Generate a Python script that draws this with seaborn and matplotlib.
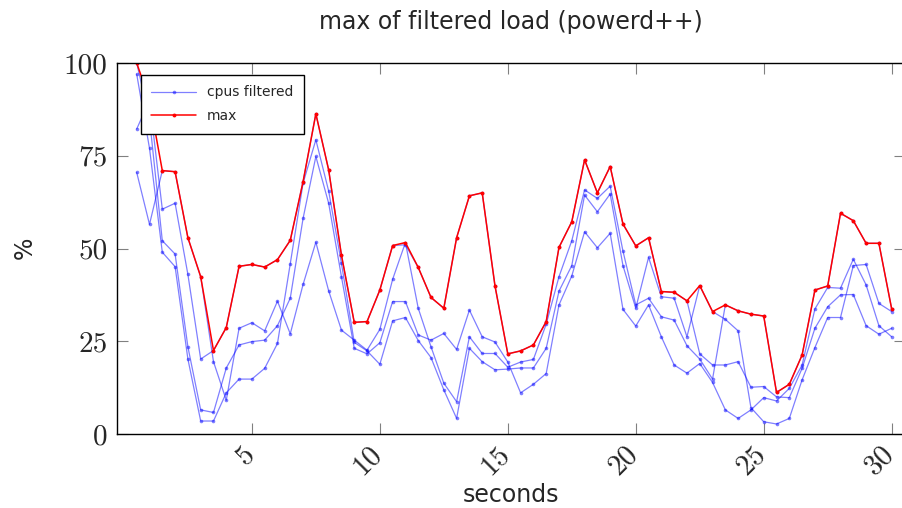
import matplotlib
matplotlib.use("Agg")
import matplotlib.pyplot as plt
import matplotlib.transforms as mtransforms
import seaborn as sns
import pandas as pd
from matplotlib.lines import Line2D

seconds = [0.5, 1.0, 1.5, 2.0, 2.5, 3.0, 3.5, 4.0, 4.5, 5.0,
           5.5, 6.0, 6.5, 7.0, 7.5, 8.0, 8.5, 9.0, 9.5, 10.0,
           10.5, 11.0, 11.5, 12.0, 12.5, 13.0, 13.5, 14.0, 14.5, 15.0,
           15.5, 16.0, 16.5, 17.0, 17.5, 18.0, 18.5, 19.0, 19.5, 20.0,
           20.5, 21.0, 21.5, 22.0, 22.5, 23.0, 23.5, 24.0, 24.5, 25.0,
           25.5, 26.0, 26.5, 27.0, 27.5, 28.0, 28.5, 29.0, 29.5, 30.0]

cpu_a = [70.5, 56.5, 71.0, 70.7, 52.9, 42.4, 19.5, 9.1, 28.5, 30.0,
         27.8, 35.8, 27.0, 40.3, 51.7, 38.6, 28.0, 25.3, 22.6, 28.2,
         41.7, 51.6, 33.9, 23.5, 13.7, 8.7, 26.2, 21.7, 21.7, 18.0,
         19.4, 20.1, 29.6, 42.4, 52.1, 65.8, 63.5, 66.8, 49.3, 34.8,
         36.6, 31.6, 30.7, 23.8, 20.2, 14.8, 34.8, 33.2, 32.3, 31.8,
         11.2, 13.4, 21.3, 38.8, 39.9, 59.5, 57.5, 51.4, 51.4, 33.7]
cpu_b = [82.2, 90.0, 60.6, 62.2, 43.0, 20.2, 22.5, 28.7, 45.2, 45.7,
         45.0, 47.0, 52.2, 68.0, 86.3, 71.2, 48.2, 30.1, 30.3, 38.8,
         50.8, 51.0, 44.9, 36.8, 33.9, 52.9, 64.2, 65.0, 39.9, 21.6,
         22.4, 24.0, 30.3, 50.3, 57.2, 73.9, 65.0, 72.1, 56.6, 50.7,
         52.9, 38.4, 38.2, 35.9, 21.6, 18.6, 18.6, 19.5, 12.6, 12.8,
         10.0, 9.8, 17.7, 28.5, 34.3, 37.5, 37.6, 29.2, 26.9, 28.5]
cpu_c = [100.0, 85.0, 52.1, 48.5, 23.5, 6.5, 5.8, 17.8, 24.0, 24.9,
         25.3, 29.2, 36.6, 58.1, 74.8, 62.2, 42.4, 23.1, 21.6, 24.6,
         35.7, 35.7, 26.7, 25.3, 27.1, 22.8, 33.4, 26.2, 24.8, 19.4,
         11.1, 13.4, 16.3, 34.8, 42.6, 54.5, 50.2, 54.1, 33.6, 29.1,
         34.8, 26.2, 18.6, 16.4, 19.0, 13.9, 6.5, 4.2, 6.5, 9.8,
         8.9, 12.3, 18.6, 33.7, 39.5, 39.3, 47.1, 40.2, 29.2, 26.2]
cpu_d = [97.0, 77.0, 49.0, 45.1, 20.2, 3.5, 3.5, 11.1, 14.8, 14.8,
         17.7, 24.4, 45.9, 67.6, 79.3, 65.5, 46.0, 24.7, 22.4, 18.8,
         30.5, 31.4, 25.2, 20.6, 11.9, 4.2, 23.1, 19.5, 17.3, 17.5,
         17.8, 17.8, 23.1, 38.5, 45.4, 64.4, 59.9, 64.7, 45.4, 33.9,
         47.6, 37.0, 36.6, 26.2, 40.0, 33.0, 30.9, 27.8, 7.1, 3.3,
         2.7, 4.2, 14.6, 23.3, 31.4, 31.4, 45.4, 45.7, 35.2, 33.0]
max_load = [100.0, 90.0, 71.0, 70.7, 52.9, 42.4, 22.5, 28.7, 45.2, 45.7,
            45.0, 47.0, 52.2, 68.0, 86.3, 71.2, 48.2, 30.1, 30.3, 38.8,
            50.8, 51.6, 44.9, 36.8, 33.9, 52.9, 64.2, 65.0, 39.9, 21.6,
            22.4, 24.0, 30.3, 50.3, 57.2, 73.9, 65.0, 72.1, 56.6, 50.7,
            52.9, 38.4, 38.2, 35.9, 40.0, 33.0, 34.8, 33.2, 32.3, 31.8,
            11.2, 13.4, 21.3, 38.8, 39.9, 59.5, 57.5, 51.4, 51.4, 33.7]

x_ticks = [5, 10, 15, 20, 25, 30]
y_ticks = [0, 25, 50, 75, 100]
title = "max of filtered load (powerd++)"
x_label = "seconds"
y_label = "%"
legend_labels = ["cpus filtered", "max"]

sns.set_style("white")
plt.rcParams["font.family"] = ["DejaVu Sans"]

W, H = 902, 508
fig = plt.figure(figsize=(W / 100, H / 100), dpi=100)
L, R, T, B = 117, 905, 63, 434
ax = fig.add_axes([L / W, 1 - B / H, (R - L) / W, (B - T) / H])

blue = (0.0, 0.0, 1.0)
for series in [cpu_a, cpu_b, cpu_c, cpu_d]:
    df = pd.DataFrame({"t": seconds, "v": series})
    sns.lineplot(data=df, x="t", y="v", ax=ax, color=blue, alpha=0.5,
                 linewidth=0.9, marker="o", markersize=2.6,
                 markeredgewidth=0, estimator=None, sort=False)
dfm = pd.DataFrame({"t": seconds, "v": max_load})
sns.lineplot(data=dfm, x="t", y="v", ax=ax, color="red", linewidth=1.1,
             marker="o", markersize=2.8, markeredgewidth=0,
             estimator=None, sort=False)

ax.set_xlim(-0.27, 30.52)
ax.set_ylim(0, 100)
ax.set_xticks(x_ticks)
ax.set_yticks(y_ticks)
ax.set_xlabel("")
ax.set_ylabel("")
ax.tick_params(direction="in", length=8, width=0.8, color="0.5",
               top=True, right=True, bottom=True, left=True, pad=7)
ax.set_yticklabels([str(v) for v in y_ticks], fontfamily="cmr10", fontsize=21)
ax.set_xticklabels([str(v) for v in x_ticks], fontfamily="cmr10", fontsize=21,
                   rotation=45, ha="right", va="top", rotation_mode="anchor")
shift = mtransforms.ScaledTranslation(-11 / 100, 3 / 100, fig.dpi_scale_trans)
for lab in ax.get_xticklabels():
    lab.set_transform(lab.get_transform() + shift)
for sp in ax.spines.values():
    sp.set_color("black")
    sp.set_linewidth(1.0)

fig.text(511 / W, 1 - 22 / H, title, ha="center", va="center", fontsize=17)
fig.text(511 / W, 1 - 495 / H, x_label, ha="center", va="center", fontsize=17)
fig.text(25 / W, 1 - 248 / H, y_label, ha="center", va="center", fontsize=17,
         rotation=90)

handles = [
    Line2D([], [], color=blue, alpha=0.5, linewidth=0.9, marker="o",
           markersize=2.6, markeredgewidth=0),
    Line2D([], [], color="red", linewidth=1.1, marker="o", markersize=2.8,
           markeredgewidth=0),
]
leg = ax.legend(handles, legend_labels, loc="upper left",
                bbox_to_anchor=((141 - L) / (R - L), (B - 75) / (B - T)),
                borderaxespad=0, fontsize=10, handlelength=3.2,
                frameon=True, fancybox=False, framealpha=1,
                edgecolor="black", borderpad=0.75, labelspacing=0.7)
leg.get_frame().set_linewidth(1.0)

fig.savefig("out.png", dpi=100)
